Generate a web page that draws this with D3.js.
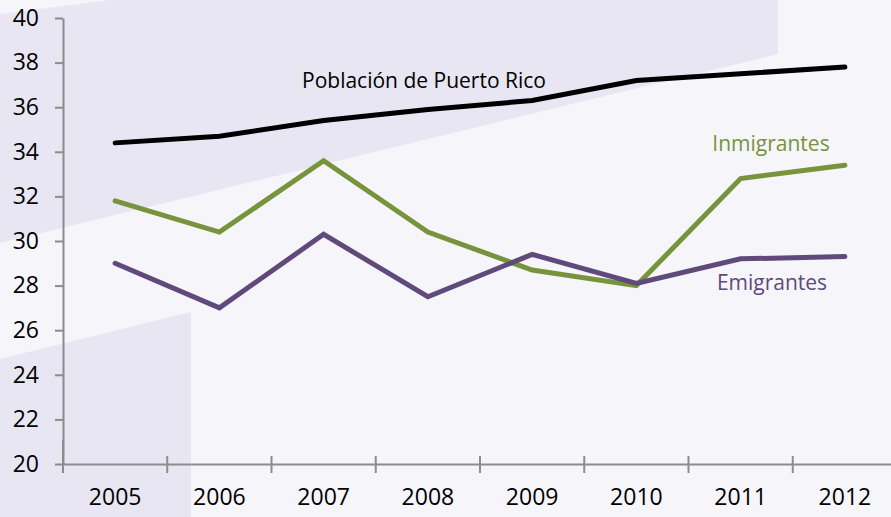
<!DOCTYPE html>
<html>
<head>
<meta charset="utf-8">
<script src="https://cdn.jsdelivr.net/npm/d3@7"></script>
<style>
  html, body { margin: 0; padding: 0; background: #f6f5fa; }
  svg { display: block; }
  svg text { font-family: "Open Sans", "Noto Sans", sans-serif; }
</style>
</head>
<body>
<div id="chart"></div>
<script>
// Daten
const years = ["2005", "2006", "2007", "2008", "2009", "2010", "2011", "2012"];
const poblacion = [34.4, 34.7, 35.4, 35.9, 36.3, 37.2, 37.5, 37.8];
const inmigrantes = [31.8, 30.4, 33.6, 30.4, 28.7, 28.0, 32.8, 33.4];
const emigrantes = [29.0, 27.0, 30.3, 27.5, 29.4, 28.1, 29.2, 29.3];
const yTicks = [20, 22, 24, 26, 28, 30, 32, 34, 36, 38, 40];

const W = 891, H = 517;
const svg = d3.select("#chart").append("svg")
    .attr("width", W).attr("height", H);

// Hintergrund mit schrägen Bändern
svg.append("rect").attr("width", W).attr("height", H).attr("fill", "#f6f5fa");
const band = "#e8e6f2";
svg.append("polygon")
    .attr("points", "0,14 110,0 778,0 778,54 0,243")
    .attr("fill", band);
svg.append("polygon")
    .attr("points", "0,359 191,312 191,517 0,517")
    .attr("fill", band);

// Skalen
const x = d3.scaleBand().domain(years).range([63, 897]);
const y = d3.scaleLinear().domain([20, 40]).range([464, 18]);
const axisColor = "#8c8c8c";

// Y-Achse
const yAxis = svg.append("g")
    .attr("transform", "translate(63,0)")
    .call(d3.axisLeft(y).tickValues(yTicks).tickSize(8).tickSizeOuter(0).tickPadding(16));
yAxis.attr("font-family", null);
yAxis.select(".domain").attr("stroke", axisColor).attr("stroke-width", 2);
yAxis.selectAll(".tick line").attr("stroke", axisColor).attr("stroke-width", 2);
yAxis.selectAll(".tick text").attr("fill", "#000").style("font-size", "23px");

// X-Achse
const xAxis = svg.append("g")
    .attr("transform", "translate(0,464)")
    .call(d3.axisBottom(x).tickSize(0).tickPadding(25));
xAxis.attr("font-family", null);
xAxis.select(".domain").attr("stroke", axisColor).attr("stroke-width", 2);
xAxis.selectAll(".tick text").attr("fill", "#000").style("font-size", "23px");
// Trennstriche zwischen den Jahren
svg.append("g").selectAll("line")
    .data(years)
    .join("line")
    .attr("x1", d => x(d)).attr("x2", d => x(d))
    .attr("y1", d => d === years[0] ? 440 : 456)
    .attr("y2", 473)
    .attr("stroke", axisColor).attr("stroke-width", 2);

// Linien
const line = d3.line()
    .x((d, i) => x(years[i]) + x.bandwidth() / 2)
    .y(d => y(d));

const series = [
    { values: poblacion, color: "#000000", label: "Población de Puerto Rico", lx: 424, ly: 88 },
    { values: inmigrantes, color: "#77933c", label: "Inmigrantes", lx: 771, ly: 151 },
    { values: emigrantes, color: "#604a7b", label: "Emigrantes", lx: 772, ly: 290 }
];

series.forEach(s => {
    svg.append("path")
        .datum(s.values)
        .attr("fill", "none")
        .attr("stroke", s.color)
        .attr("stroke-width", 5)
        .attr("stroke-linecap", "round")
        .attr("stroke-linejoin", "miter")
        .attr("d", line);
});

series.forEach(s => {
    svg.append("text")
        .attr("x", s.lx).attr("y", s.ly)
        .attr("text-anchor", "middle")
        .attr("fill", s.color)
        .style("font-size", "21px")
        .text(s.label);
});
</script>
</body>
</html>
